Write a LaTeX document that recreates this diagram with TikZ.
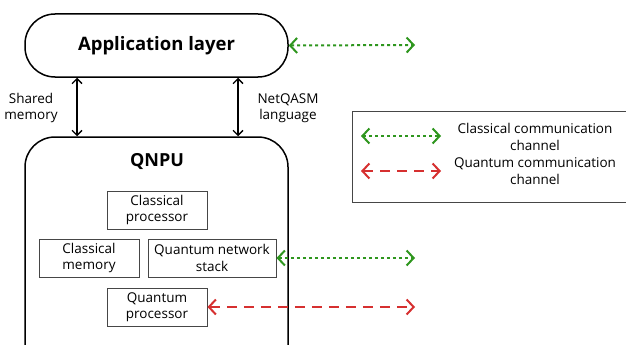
\documentclass[tikz,border=0pt]{standalone}
\usepackage{fontspec}
\setmainfont{Open Sans}
\usetikzlibrary{arrows.meta}
\definecolor{chgreen}{RGB}{46,150,30}
\definecolor{qred}{RGB}{214,48,48}
\definecolor{boxgray}{RGB}{70,70,70}
\begin{document}
\begin{tikzpicture}[x=1pt,y=-1pt,
  layer/.style={draw=black,line width=1.5pt,rounded corners=30pt,minimum width=263pt,inner sep=0pt},
  unit/.style={draw=boxgray,line width=1pt,minimum width=100pt,minimum height=38pt,inner sep=0pt,align=center,font=\fontsize{13.5}{16.5}\selectfont},
  lbl/.style={align=center,font=\fontsize{13.5}{16.5}\selectfont},
  api/.style={{Straight Barb[length=5pt,width=10pt]}-{Straight Barb[length=5pt,width=10pt]},line width=1.4pt},
  cchan/.style={{Straight Barb[length=7pt,width=15pt]}-{Straight Barb[length=7pt,width=15pt]},chgreen,line width=2pt,dash pattern=on 3pt off 3pt},
  qchan/.style={{Straight Barb[length=7pt,width=15pt]}-{Straight Barb[length=7pt,width=15pt]},qred,line width=2pt,dash pattern=on 10pt off 7pt}]
\useasboundingbox (0,0) rectangle (626,345);

\node[layer,minimum height=63pt,font=\bfseries\fontsize{18.5}{22}\selectfont] (app) at (156.5,45.5) {Application layer};
\node[layer,minimum height=240pt] (qnpu) at (156.5,257) {};
\node[font=\bfseries\fontsize{18}{21}\selectfont] (qnputitle) at (157,162) {QNPU};

\node[unit] (cproc) at (157,210) {Classical\\processor};
\node[unit] (cmem) at (89,258) {Classical\\memory};
\node[unit,minimum width=128pt] (qns) at (212,258) {Quantum network\\stack};
\node[unit] (qproc) at (157,307) {Quantum\\processor};

\coordinate (left) at (77,0);
\coordinate (right) at (238,0);
\draw[api] (app.south -| left) -- (qnpu.north -| left);
\draw[api] (app.south -| right) -- (qnpu.north -| right);
\node[lbl] (shm) at (31,108) {Shared\\memory};
\node[lbl] (nql) at (288,108) {NetQASM\\language};

\coordinate (append) at (415,45);
\coordinate (qnsend) at (415,258);
\coordinate (qpend) at (415,307);
\draw[cchan] (app.east) -- (append);
\draw[cchan] (qns.east) -- (qnsend);
\draw[qchan] (qproc.east) -- (qpend);

\node[draw=boxgray,line width=1pt,minimum width=276pt,minimum height=91pt,inner sep=0pt] (legend) at (490,156.5) {};
\coordinate (ca) at (361,136);
\coordinate (cb) at (441,136);
\coordinate (qa) at (361,171);
\coordinate (qb) at (441,171);
\draw[cchan] (ca) -- (cb);
\draw[qchan] (qa) -- (qb);
\node[lbl] (ctext) at (535,137) {Classical communication\\channel};
\node[lbl] (qtext) at (535,171) {Quantum communication\\channel};
\end{tikzpicture}
\end{document}
